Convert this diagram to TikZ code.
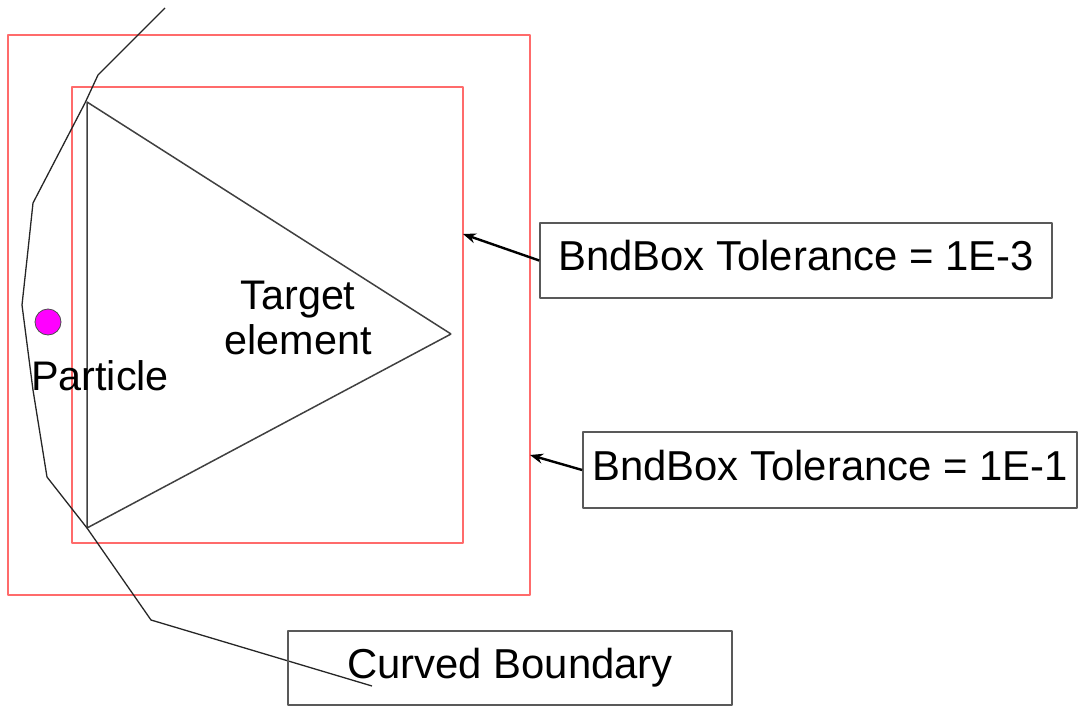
\documentclass[tikz,border=0pt]{standalone}
\usepackage{fontspec}
\setmainfont{Liberation Sans}
\usepackage[x11names, svgnames, rgb]{xcolor}
\usetikzlibrary{arrows.meta, positioning, calc}

\definecolor{bboxred}{rgb}{1.0,0.42,0.42}
\definecolor{boxgray}{rgb}{0.35,0.35,0.35}
\definecolor{particlecol}{rgb}{1.0,0.0,1.0}

\begin{document}
\begin{tikzpicture}[x=1bp,y=-1bp,>={Stealth[length=13bp,width=10bp]},line join=bevel,
    bndbox/.style={draw=bboxred,line width=2bp},
    labelbox/.style={draw=boxgray,line width=1.6bp,inner sep=0pt,text depth=10bp,
      font=\fontsize{42}{48}\selectfont},
    plaintext/.style={inner sep=0pt,align=center,font=\fontsize{41.5}{46}\selectfont},
    boundary/.style={draw=black!85,line width=1.3bp},
    element/.style={draw=black!75,line width=1.5bp},
    pointer/.style={->,draw=black,line width=2.4bp}]
  \useasboundingbox (0,0) rectangle (1084,707);
%%
  % Bounding boxes
  \draw [bndbox] (8,35) rectangle (530,595);
  \draw [bndbox] (72,87) rectangle (463,543);
  \coordinate (inner_e) at (463,234);
  \coordinate (outer_e) at (530,455);
  % Target element
  \coordinate (t0) at (87,102);
  \coordinate (t1) at (87,528);
  \coordinate (t2) at (451,334);
  \draw [element] (t0) -- (t1) -- (t2) -- cycle;
  \node [plaintext] (target) at (298,318) {Target\\element};
  % Curved boundary
  \draw [boundary] (165,8) -- (98,75) -- (85,103) -- (33,203) -- (28,250)
    -- (22,305) -- (33,390) -- (47,477) -- (87,528) -- (151,620) -- (372,686);
  % Particle
  \node [circle,fill=particlecol,draw=black!70,line width=0.8bp,
    minimum size=26bp,inner sep=0pt] (particle) at (48,322) {};
  \node [plaintext,below=25bp of particle.south,anchor=north,xshift=52bp] (plabel) {Particle};
  % Labels
  \node [labelbox,minimum width=512bp,minimum height=75bp] (tol3) at (796,260.5)
    {BndBox Tolerance = 1E-3};
  \node [labelbox,minimum width=494bp,minimum height=76bp] (tol1) at (830,470)
    {BndBox Tolerance = 1E-1};
  \node [labelbox,minimum width=444bp,minimum height=74bp] (curved) at (510,668)
    {Curved Boundary};
  % Pointers
  \draw [pointer] (tol3.west) -- (inner_e);
  \draw [pointer] (tol1.west) -- (outer_e);
%
\end{tikzpicture}
\end{document}
